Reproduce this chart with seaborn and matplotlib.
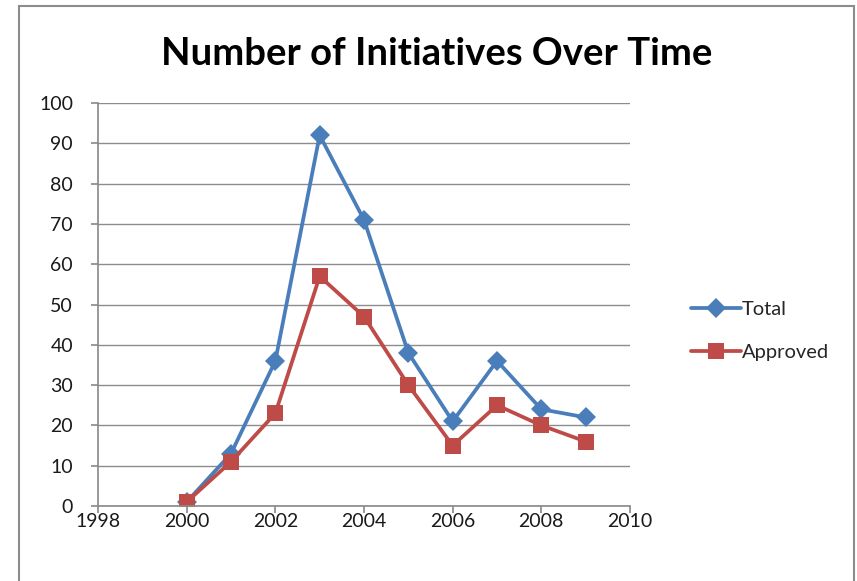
import pandas as pd
import matplotlib.pyplot as plt
import matplotlib.patches as patches
import seaborn as sns

sns.set_theme(style="white")
plt.rcParams["font.family"] = ["Lato", "DejaVu Sans"]

# Datos
years = [2000, 2001, 2002, 2003, 2004, 2005, 2006, 2007, 2008, 2009]
total = [1, 13, 36, 92, 71, 38, 21, 36, 24, 22]
approved = [1, 11, 23, 57, 47, 30, 15, 25, 20, 16]
series_names = ["Total", "Approved"]

df = pd.DataFrame({
    "Year": years * 2,
    "Value": total + approved,
    "Series": ["Total"] * len(years) + ["Approved"] * len(years),
})

palette = {"Total": "#4A7EBB", "Approved": "#BE4B48"}
markers = {"Total": "D", "Approved": "s"}

fig = plt.figure(figsize=(8.57, 5.81), dpi=100)
ax = fig.add_axes([0.1144, 0.1291, 0.6207, 0.6936])

# marco del gráfico
fig.patches.append(patches.Rectangle((0.0222, -0.02), 0.9743, 1.0097, transform=fig.transFigure,
                                     fill=False, edgecolor="#8c8c8c", linewidth=1.5))

sns.lineplot(data=df, x="Year", y="Value", hue="Series", style="Series",
             hue_order=series_names, style_order=series_names,
             palette=palette, markers=markers, dashes=False,
             linewidth=2.7, markersize=10.5, markeredgewidth=0, ax=ax)
for line in ax.lines:
    if line.get_marker() == "s":
        line.set_markersize(11.5)

ax.set_xlim(1998, 2010)
ax.set_ylim(0, 100)
ax.set_xticks(range(1998, 2011, 2))
ax.set_yticks(range(0, 101, 10))
ax.yaxis.grid(True, color="#8c8c8c", linewidth=1)
ax.xaxis.grid(False)
for side in ["top", "right"]:
    ax.spines[side].set_visible(False)
for side in ["left", "bottom"]:
    ax.spines[side].set_color("#8c8c8c")
ax.tick_params(axis="both", which="both", length=5, color="#8c8c8c", labelsize=14,
               labelcolor="#1a1a1a", left=True, bottom=True)
ax.tick_params(axis="x", pad=0)
ax.tick_params(axis="y", pad=13)
ax.set_xlabel("")
ax.set_ylabel("")

fig.text(0.509, 0.907, "Number of Initiatives Over Time", ha="center", va="center",
         fontsize=27.5, fontweight="bold", color="black")

leg = ax.legend(loc="center left", bbox_to_anchor=(1.08, 0.435), frameon=False,
                fontsize=14.5, handlelength=2.5, handletextpad=0.05, labelspacing=1.3)

plt.savefig("out.png", dpi=100)
plt.close()
